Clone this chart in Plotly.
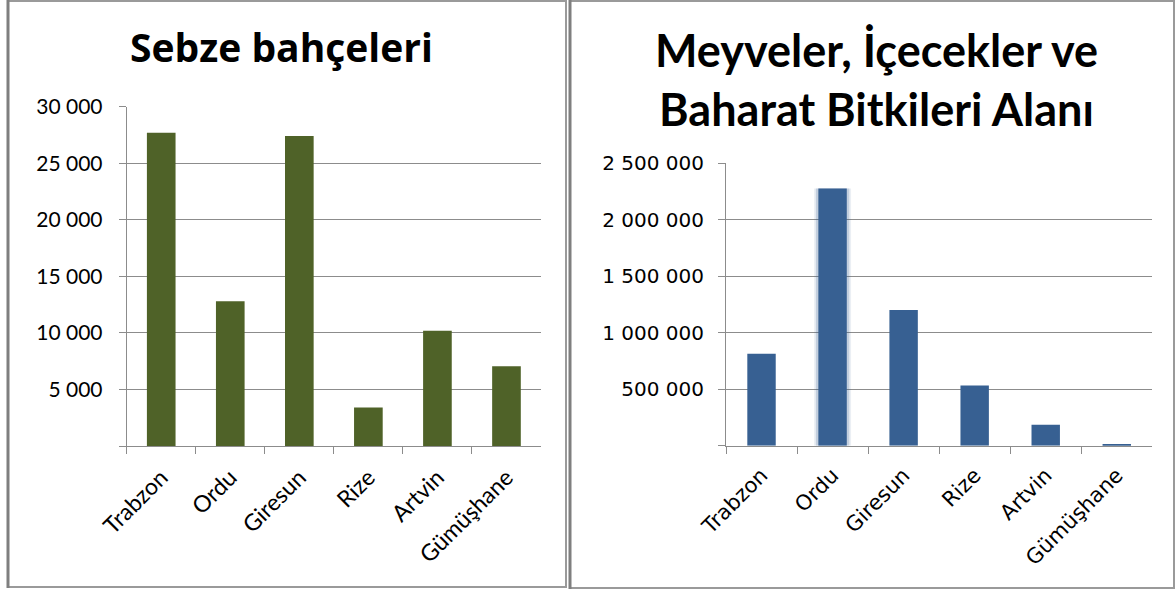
import plotly.graph_objects as go

# ---- data ----
provinces = ["Trabzon", "Ordu", "Giresun", "Rize", "Artvin", "Gümüşhane"]
sebze_values = [27700, 12800, 27400, 3400, 10200, 7050]
meyve_values = [815000, 2276000, 1202000, 534000, 186000, 15000]

left_title = "Sebze bahçeleri"
right_title = "Meyveler, İçecekler ve<br>Baharat Bitkileri Alanı"

left_tickvals = [0, 5000, 10000, 15000, 20000, 25000, 30000]
left_ticktext = ["", "5 000", "10 000", "15 000", "20 000", "25 000", "30 000"]
right_tickvals = [0, 500000, 1000000, 1500000, 2000000, 2500000]
right_ticktext = ["", "500 000", "1 000 000", "1 500 000", "2 000 000", "2 500 000"]

W, H = 1175, 589
GRID = "#8c8c8c"
GREEN = "#4F6228"
BLUE = "#376092"


def px_x(v):
    return v / W


def px_y(v):
    return 1 - v / H


fig = go.Figure()

fig.add_trace(go.Bar(x=provinces, y=sebze_values, marker=dict(color=GREEN, line=dict(width=0)),
                     width=0.415, xaxis="x", yaxis="y", hoverinfo="x+y", showlegend=False))

# soft glow around the highlighted Ordu column (same data, styling only)
ordu_only = [v if p == "Ordu" else None for p, v in zip(provinces, meyve_values)]
for w, a in [(0.52, 0.10), (0.47, 0.22)]:
    fig.add_trace(go.Bar(x=provinces, y=ordu_only, marker=dict(color=f"rgba(55,96,146,{a})", line=dict(width=0)),
                         width=w, xaxis="x2", yaxis="y2", hoverinfo="skip", showlegend=False))

fig.add_trace(go.Bar(x=provinces, y=meyve_values, marker=dict(color=BLUE, line=dict(width=0)),
                     width=0.40, xaxis="x2", yaxis="y2", hoverinfo="x+y", showlegend=False))

axis_common = dict(showline=True, linecolor=GRID, linewidth=1, ticks="outside", ticklen=7,
                   tickcolor=GRID, tickwidth=1, zeroline=False, automargin=False)

fig.update_layout(
    width=W, height=H,
    autosize=False,
    margin=dict(l=0, r=0, t=0, b=0, pad=0),
    paper_bgcolor="white", plot_bgcolor="white",
    barmode="overlay",
    separators=", ",
    showlegend=False,
    xaxis=dict(domain=[px_x(126.7), px_x(541)], type="category", tickson="boundaries",
               tickangle=-45, showgrid=False, anchor="y",
               tickfont=dict(family="Lato", size=23, color="#000"), ticklabelstandoff=8,
               **axis_common),
    yaxis=dict(domain=[px_y(446), px_y(106.7)], range=[0, 30000], tickmode="array",
               tickvals=left_tickvals, ticktext=left_ticktext, showgrid=True, gridcolor=GRID,
               gridwidth=1, anchor="x",
               tickfont=dict(family="Lato", size=21, color="#000"), ticklabelstandoff=12,
               **axis_common),
    xaxis2=dict(domain=[px_x(726), px_x(1152.3)], type="category", tickson="boundaries",
                tickangle=-45, showgrid=False, anchor="y2",
                tickfont=dict(family="DejaVu Sans", size=21, color="#000"), ticklabelstandoff=8,
                **axis_common),
    yaxis2=dict(domain=[px_y(445.7), px_y(163.3)], range=[0, 2500000], tickmode="array",
                tickvals=right_tickvals, ticktext=right_ticktext, showgrid=True, gridcolor=GRID,
                gridwidth=1, anchor="x2",
                tickfont=dict(family="DejaVu Sans", size=20, color="#000"), ticklabelstandoff=10,
                **axis_common),
    annotations=[
        dict(text=left_title, xref="paper", yref="paper", x=px_x(281), y=px_y(47),
             xanchor="center", yanchor="middle", showarrow=False,
             font=dict(family="Open Sans", size=39, color="#000", weight="bold")),
        dict(text=right_title, xref="paper", yref="paper", x=px_x(876), y=px_y(79),
             xanchor="center", yanchor="middle", showarrow=False,
             font=dict(family="Lato", size=45, color="#000", weight="bold")),
    ],
    shapes=[
        dict(type="rect", xref="paper", yref="paper", x0=px_x(8), x1=px_x(566), y0=px_y(587), y1=px_y(1),
             line=dict(color="#9a9a9a", width=2)),
        dict(type="line", xref="paper", yref="paper", x0=px_x(8), x1=px_x(8), y0=px_y(588), y1=px_y(0),
             line=dict(color="#7f7f7f", width=3)),
        dict(type="rect", xref="paper", yref="paper", x0=px_x(570), x1=px_x(1174), y0=px_y(588), y1=px_y(1),
             line=dict(color="#9a9a9a", width=2)),
        dict(type="line", xref="paper", yref="paper", x0=px_x(570), x1=px_x(570), y0=px_y(589), y1=px_y(0),
             line=dict(color="#7f7f7f", width=3)),
    ],
)

fig.write_html("out.html")
